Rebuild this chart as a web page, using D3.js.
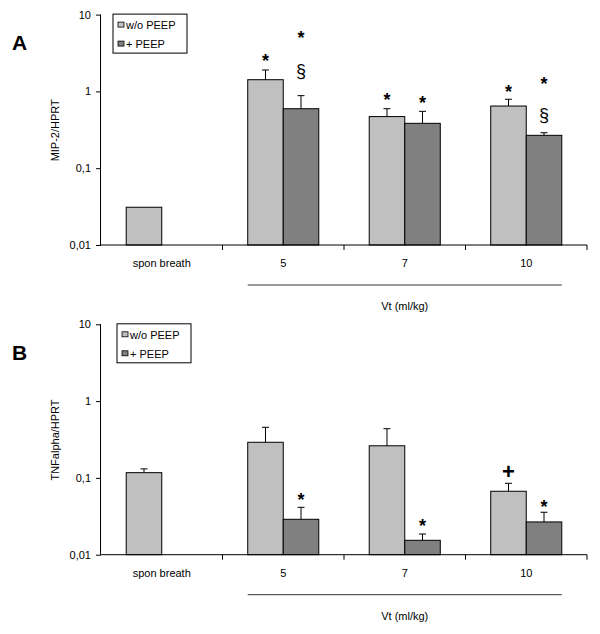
<!DOCTYPE html>
<html>
<head>
<meta charset="utf-8">
<script src="https://cdn.jsdelivr.net/npm/d3@7"></script>
<style>
  html, body { margin: 0; padding: 0; background: #fff; }
  svg { display: block; }
  text { font-family: Arial, "Liberation Sans", sans-serif; fill: #000; }
</style>
</head>
<body>
<svg id="chart" width="600" height="634"></svg>
<script>
// ---------- DATA ----------
const categories = ["spon breath", "5", "7", "10"];
const seriesNames = ["w/o PEEP", "+ PEEP"];
const yTicks = [0.01, 0.1, 1, 10];
const yTickLabels = ["0,01", "0,1", "1", "10"];
const xTitle = "Vt (ml/kg)";

// Panel A: MIP-2/HPRT
const mipWo       = [0.031, 1.42, 0.47, 0.645];
const mipWoErr    = [null,  1.90, 0.595, 0.79];
const mipPeep     = [null,  0.595, 0.384, 0.268];
const mipPeepErr  = [null,  0.88, 0.55, 0.29];
const mipMarkCat    = ["5", "5", "5", "7", "7", "10", "10", "10"];
const mipMarkSeries = [0, 1, 1, 0, 1, 0, 1, 1];
const mipMarkSymbol = ["*", "*", "§", "*", "*", "*", "*", "§"];
const mipMarkValue  = [2.83, 5.54, 1.81, 0.88, 0.80, 1.12, 1.41, 0.49];

// Panel B: TNFalpha/HPRT
const tnfWo       = [0.117, 0.291, 0.262, 0.067];
const tnfWoErr    = [0.131, 0.456, 0.437, 0.085];
const tnfPeep     = [null,  0.0289, 0.0154, 0.0267];
const tnfPeepErr  = [null,  0.0414, 0.0186, 0.0357];
const tnfMarkCat    = ["5", "7", "10", "10"];
const tnfMarkSeries = [1, 1, 0, 1];
const tnfMarkSymbol = ["*", "*", "+", "*"];
const tnfMarkValue  = [0.0586, 0.0264, 0.1205, 0.0467];

// ---------- DRAW ----------
const svg = d3.select("#chart");
const colors = ["#c0c0c0", "#808080"];

function drawPanel(opt) {
  const g = svg.append("g").attr("transform", `translate(0,${opt.dy})`);
  const left = 101, right = 587, top = 14.6, bottom = 245;

  const x = d3.scaleBand().domain(categories).range([left, right]).padding(0);
  const xs = d3.scaleBand().domain([0, 1]).range([0, x.bandwidth()])
    .paddingInner(0).paddingOuter(0.71);
  const y = d3.scaleLog().domain([0.01, 10]).range([bottom, top]);

  const series = [
    { vals: opt.wo, errs: opt.woErr },
    { vals: opt.peep, errs: opt.peepErr }
  ];

  // bars
  series.forEach((s, si) => {
    const data = categories.map((c, i) => ({ c, v: s.vals[i], e: s.errs[i] }))
      .filter(d => d.v != null);
    g.selectAll(null).data(data).enter().append("rect")
      .attr("x", d => x(d.c) + xs(si))
      .attr("y", d => y(d.v))
      .attr("width", xs.bandwidth())
      .attr("height", d => bottom - y(d.v))
      .attr("fill", colors[si])
      .attr("stroke", "#000")
      .attr("stroke-width", 1);
    const ed = data.filter(d => d.e != null);
    const cx = d => x(d.c) + xs(si) + xs.bandwidth() / 2;
    g.selectAll(null).data(ed).enter().append("line")
      .attr("x1", cx).attr("x2", cx)
      .attr("y1", d => y(d.v)).attr("y2", d => y(d.e))
      .attr("stroke", "#000").attr("stroke-width", 1);
    g.selectAll(null).data(ed).enter().append("line")
      .attr("x1", d => cx(d) - 3.5).attr("x2", d => cx(d) + 3.5)
      .attr("y1", d => y(d.e)).attr("y2", d => y(d.e))
      .attr("stroke", "#000").attr("stroke-width", 1);
  });

  // y axis
  const yAxis = d3.axisLeft(y).tickValues(yTicks)
    .tickFormat((d, i) => yTickLabels[i]).tickSize(5).tickPadding(5);
  const ya = g.append("g").attr("transform", `translate(${left},0)`).call(yAxis);
  ya.select(".domain").attr("stroke", "#000").attr("d", `M-0.5,${top}V${bottom}`);
  ya.selectAll(".tick line").attr("stroke", "#000");
  ya.selectAll("text").style("font-size", "11px").attr("fill", "#000")
    .style("font-family", "Arial, 'Liberation Sans', sans-serif");

  // x axis
  g.append("line").attr("x1", left).attr("x2", right)
    .attr("y1", bottom).attr("y2", bottom).attr("stroke", "#000");
  const bounds = categories.map(c => x(c)).concat([x.range()[1]]).slice(1);
  g.selectAll(null).data(bounds).enter().append("line")
    .attr("x1", d => d).attr("x2", d => d)
    .attr("y1", bottom).attr("y2", bottom + 5).attr("stroke", "#000");
  g.selectAll(null).data(categories).enter().append("text")
    .attr("x", d => x(d) + x.bandwidth() / 2)
    .attr("y", bottom + 22)
    .attr("text-anchor", "middle")
    .style("font-size", "11px")
    .text(d => d);

  // group line under Vt categories
  const x0 = x("5") + xs(0), x1 = x("10") + xs(1) + xs.bandwidth();
  g.append("line").attr("x1", x0).attr("x2", x1)
    .attr("y1", bottom + 40).attr("y2", bottom + 40)
    .attr("stroke", "#333").attr("stroke-width", 1);
  g.append("text").attr("x", (x0 + x1) / 2).attr("y", bottom + 65)
    .attr("text-anchor", "middle").style("font-size", "11px").text(xTitle);

  // y label
  g.append("text")
    .attr("transform", `translate(59,${(top + bottom) / 2 + 0.5}) rotate(-90)`)
    .attr("text-anchor", "middle")
    .style("font-size", "11px")
    .text(opt.yLabel);

  // panel letter
  g.append("text").attr("x", 12).attr("y", 50)
    .style("font-size", "21px").style("font-weight", "bold").text(opt.letter);

  // legend
  const lg = g.append("g").attr("transform", `translate(${opt.legX},${top - 0.5})`);
  lg.append("rect").attr("x", 0).attr("y", 0).attr("width", 74).attr("height", 39)
    .attr("fill", "#fff").attr("stroke", "#000");
  seriesNames.forEach((n, i) => {
    lg.append("rect").attr("x", 5).attr("y", 8 + i * 19).attr("width", 6).attr("height", 5)
      .attr("fill", colors[i]).attr("stroke", "#000").attr("stroke-width", 0.8);
    lg.append("text").attr("x", 13).attr("y", 15 + i * 19)
      .style("font-size", "11px").text(n);
  });

  // significance marks
  const marks = opt.markCat.map((c, i) => ({
    c, s: opt.markSeries[i], sym: opt.markSymbol[i], v: opt.markValue[i]
  }));
  g.selectAll(null).data(marks).enter().append("text")
    .attr("x", d => x(d.c) + xs(d.s) + xs.bandwidth() / 2)
    .attr("y", d => {
      const yc = y(d.v);
      if (d.sym === "*") return yc + 0.56 * 18;
      if (d.sym === "§") return yc + 0.32 * 18;
      return yc + 0.33 * 22;
    })
    .attr("text-anchor", "middle")
    .style("font-size", d => d.sym === "*" ? "18px" : (d.sym === "§" ? "18px" : "22px"))
    .style("font-weight", d => d.sym === "§" ? "normal" : "bold")
    .text(d => d.sym);
}

drawPanel({
  dy: 0, letter: "A", yLabel: "MIP-2/HPRT", legX: 113,
  wo: mipWo, woErr: mipWoErr, peep: mipPeep, peepErr: mipPeepErr,
  markCat: mipMarkCat, markSeries: mipMarkSeries, markSymbol: mipMarkSymbol, markValue: mipMarkValue
});
drawPanel({
  dy: 309.7, letter: "B", yLabel: "TNFalpha/HPRT", legX: 117,
  wo: tnfWo, woErr: tnfWoErr, peep: tnfPeep, peepErr: tnfPeepErr,
  markCat: tnfMarkCat, markSeries: tnfMarkSeries, markSymbol: tnfMarkSymbol, markValue: tnfMarkValue
});
</script>
</body>
</html>
